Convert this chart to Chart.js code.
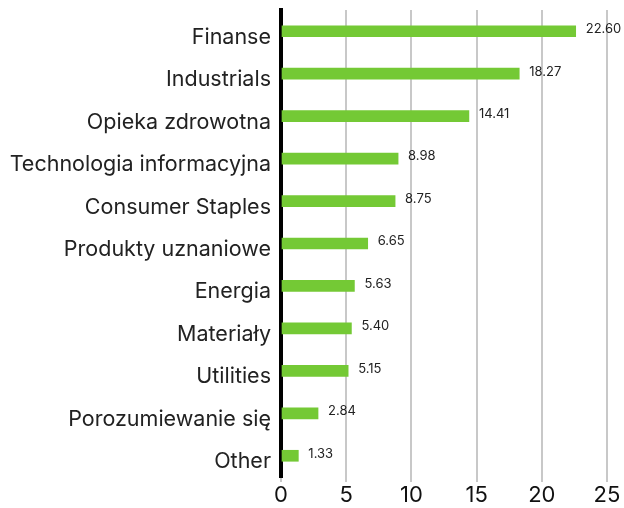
<!DOCTYPE html>
<html lang="pl">
<head>
    <meta charset="UTF-8">
    <title>Sektory</title>
    <script src="https://cdn.jsdelivr.net/npm/chart.js"></script>
    <style>
        html, body { margin: 0; padding: 0; background: #fff; }
        #wrap { width: 624px; height: 508px; position: relative; }
    </style>
</head>
<body>
    <div id="wrap"><canvas id="sectorChart"></canvas></div>

    <script>
        // dane z wykresu
        const categories = [
            'Finanse', 'Industrials', 'Opieka zdrowotna', 'Technologia informacyjna',
            'Consumer Staples', 'Produkty uznaniowe', 'Energia', 'Materiały',
            'Utilities', 'Porozumiewanie się', 'Other'
        ];
        const weights = [22.60, 18.27, 14.41, 8.98, 8.75, 6.65, 5.63, 5.40, 5.15, 2.84, 1.33];
        const xTicks = [0, 5, 10, 15, 20, 25];

        const fontFamily = 'Inter, "DejaVu Sans", sans-serif';

        // etykiety z wartościami obok słupków
        const valueLabels = {
            id: 'valueLabels',
            afterDatasetsDraw(chart) {
                const ctx = chart.ctx;
                const meta = chart.getDatasetMeta(0);
                ctx.save();
                ctx.font = '13px ' + fontFamily;
                ctx.fillStyle = '#222';
                ctx.textAlign = 'left';
                ctx.textBaseline = 'middle';
                meta.data.forEach((bar, i) => {
                    ctx.fillText(weights[i].toFixed(2), bar.x + 10, bar.y - 2);
                });
                ctx.restore();
            }
        };

        new Chart(document.getElementById('sectorChart'), {
            type: 'bar',
            data: {
                labels: categories,
                datasets: [{
                    data: weights,
                    backgroundColor: '#74c935',
                    barThickness: 11
                }]
            },
            options: {
                indexAxis: 'y',
                responsive: true,
                maintainAspectRatio: false,
                animation: false,
                layout: { padding: { top: 10, right: 17, bottom: 0, left: 0 } },
                plugins: {
                    legend: { display: false },
                    tooltip: { enabled: false }
                },
                scales: {
                    x: {
                        min: 0,
                        max: 25,
                        afterBuildTicks(scale) {
                            scale.ticks = xTicks.map(v => ({ value: v }));
                        },
                        afterFit(scale) { scale.height = 31; },
                        grid: {
                            color: '#c8c8c8',
                            lineWidth: 2,
                            drawTicks: true,
                            tickLength: 5
                        },
                        border: { display: false },
                        ticks: {
                            color: '#111',
                            font: { family: fontFamily, size: 22 },
                            padding: 0
                        }
                    },
                    y: {
                        afterFit(scale) {
                            scale.width = 281;
                            scale.paddingTop = 0;
                            scale.paddingBottom = 0;
                        },
                        grid: { display: false },
                        border: { display: true, color: '#000', width: 4 },
                        ticks: {
                            color: '#222',
                            font: { family: fontFamily, size: 21.5 },
                            padding: 2,
                            labelOffset: 6
                        }
                    }
                }
            },
            plugins: [valueLabels]
        });
    </script>
</body>
</html>
